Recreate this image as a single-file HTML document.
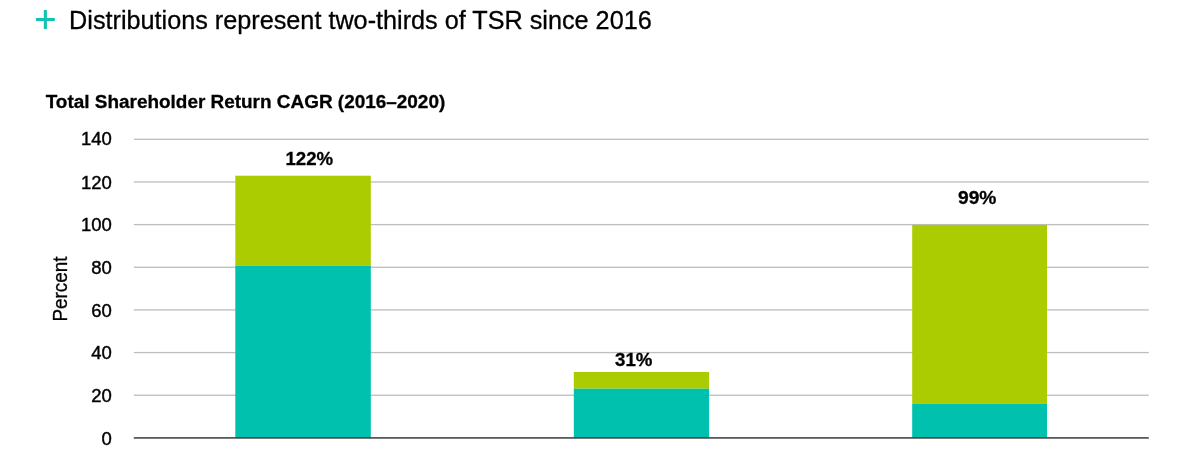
<!DOCTYPE html>
<html>
<head>
<meta charset="utf-8">
<style>
html,body{margin:0;padding:0;background:#fff;}
body{width:1185px;height:451px;position:relative;overflow:hidden;font-family:"Liberation Sans",sans-serif;color:#000;}
.abs{position:absolute;white-space:nowrap;line-height:1;}
div.abs{-webkit-text-stroke:0.3px #000;}
#txt{position:absolute;left:0;top:0;width:1185px;height:451px;will-change:transform;}
#title{left:69.1px;top:7.6px;font-size:25.23px;}
#sub{left:45.7px;top:93px;font-size:18.96px;font-weight:bold;transform:scaleY(1.015);transform-origin:0 84.65%;}
.yl{right:1073.1px;margin-top:1.0px;-webkit-text-stroke:0.42px #000 !important;transform:scaleY(1.03);transform-origin:50% 84.65%;font-size:18.5px;text-align:right;}
.grid{position:absolute;left:133.8px;width:1015px;height:1.33px;background:#c4c4c4;}
.bar{position:absolute;}
.teal{background:#00c0ae;}
.green{background:#aacc00;}
.lab{font-size:18.67px;font-weight:bold;-webkit-text-stroke:0.25px #000;transform:translateX(-50%) scaleY(1.0);transform-origin:50% 84.65%;}
#axis{position:absolute;left:133.8px;width:1015px;top:437.1px;height:1.7px;background:#454545;}
#pct{left:60.6px;top:289.05px;font-size:18.9px;transform:translate(-50%,-50%) rotate(-90deg) scaleY(1.04);}
</style>
</head>
<body>


<svg class="abs" style="left:0;top:0" width="1185" height="451" viewBox="0 0 1185 451">
<rect x="133.8" y="138.64" width="1015" height="1.33" fill="#bfbfbf"/>
<rect x="133.8" y="181.29" width="1015" height="1.33" fill="#bfbfbf"/>
<rect x="133.8" y="223.95" width="1015" height="1.33" fill="#bfbfbf"/>
<rect x="133.8" y="266.61" width="1015" height="1.33" fill="#bfbfbf"/>
<rect x="133.8" y="309.26" width="1015" height="1.33" fill="#bfbfbf"/>
<rect x="133.8" y="351.92" width="1015" height="1.33" fill="#bfbfbf"/>
<rect x="133.8" y="394.58" width="1015" height="1.33" fill="#bfbfbf"/>
<rect x="235.3" y="175.7" width="135.5" height="89.9" fill="#aacc00"/>
<rect x="235.3" y="265.6" width="135.5" height="172.4" fill="#00c0ae"/>
<rect x="573.8" y="372.0" width="135.3" height="16.7" fill="#aacc00"/>
<rect x="573.8" y="388.7" width="135.3" height="49.3" fill="#00c0ae"/>
<rect x="912.2" y="224.9" width="134.8" height="178.7" fill="#aacc00"/>
<rect x="912.2" y="403.6" width="134.8" height="34.4" fill="#00c0ae"/>
<rect x="133.8" y="437.15" width="1015" height="1.55" fill="#424242"/>
<path d="M45.36 10.03V28.93M35.91 19.48H54.81" stroke="#12c3b2" stroke-width="3.1" fill="none"/>
</svg>
<div id="txt">
<div id="title" class="abs">Distributions represent two-thirds of TSR since 2016</div>
<div id="sub" class="abs">Total Shareholder Return CAGR (2016–2020)</div>
<div class="abs yl" style="top:130px;margin-top:0.2px">140</div>
<div class="abs yl" style="top:172.6px">120</div>
<div class="abs yl" style="top:215.3px;margin-top:0.6px">100</div>
<div class="abs yl" style="top:257.9px">80</div>
<div class="abs yl" style="top:300.6px">60</div>
<div class="abs yl" style="top:343.2px">40</div>
<div class="abs yl" style="top:385.9px">20</div>
<div class="abs yl" style="top:428.5px">0</div>

<div id="pct" class="abs">Percent</div>



<div class="abs lab" style="left:309.3px;top:149.9px">122%</div>
<div class="abs lab" style="left:633.75px;top:350.85px">31%</div>
<div class="abs lab" style="left:977.2px;top:188.05px;font-size:19.2px">99%</div>
</div>
</body>
</html>
